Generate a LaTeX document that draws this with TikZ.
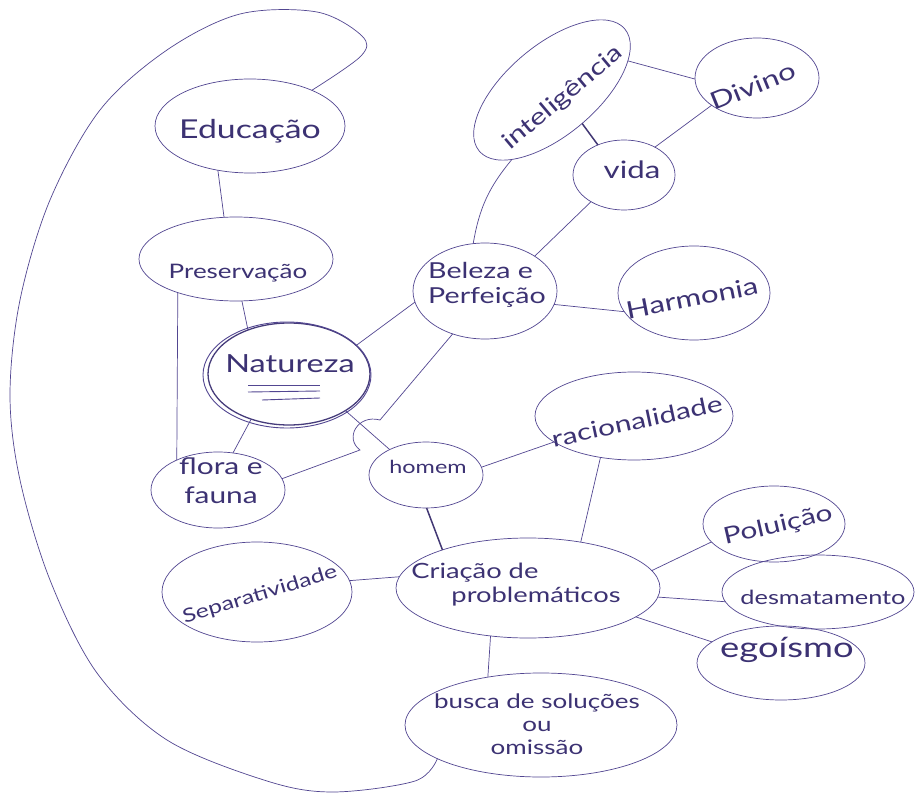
\documentclass[tikz,border=0pt]{standalone}
\usepackage{fontspec}
\setmainfont{Lato}[FakeStretch=1.3]
\usetikzlibrary{shapes.geometric}
\definecolor{ink}{RGB}{82,70,145}
\definecolor{inktext}{RGB}{60,50,115}
\begin{document}
\begin{tikzpicture}[x=1pt,y=-1pt,
  bub/.style={ellipse,draw=ink,line width=0.7pt,inner sep=0pt,outer sep=0pt},
  lbl/.style 2 args={text=inktext,inner sep=0pt,align=center,font=\fontsize{#1}{#2}\selectfont},
  link/.style={draw=ink,line width=0.7pt},
  strong/.style={draw=ink!80!black,line width=1.5pt}]
\useasboundingbox (0,0) rectangle (916,794);
\fill[white] (0,0) rectangle (916,794);

% bubbles
\node[bub,minimum width=190,minimum height=94] (edu) at (250,126) {};
\node[bub,minimum width=194,minimum height=84] (pres) at (236,259) {};
\node[bub,minimum width=162,minimum height=102,line width=1.3pt,draw=ink!85!black] (nat) at (289,374) {};
\node[bub,minimum width=144,minimum height=96] (bel) at (485,291) {};
\node[bub,minimum width=190,minimum height=90,rotate=40] (intel) at (552,90) {};
\node[bub,minimum width=124,minimum height=80] (div) at (757,78) {};
\node[bub,minimum width=102,minimum height=70] (vida) at (624,175) {};
\node[bub,minimum width=152,minimum height=94] (harm) at (694,293) {};
\node[bub,minimum width=198,minimum height=88] (rac) at (634,416) {};
\node[bub,minimum width=114,minimum height=66] (hom) at (426,475) {};
\node[bub,minimum width=134,minimum height=76] (flora) at (218,490) {};
\node[bub,minimum width=190,minimum height=100] (sep) at (257,592) {};
\node[bub,minimum width=264,minimum height=100] (cria) at (528,588) {};
\node[bub,minimum width=142,minimum height=76] (pol) at (774,524) {};
\node[bub,minimum width=192,minimum height=74] (desm) at (818,592) {};
\node[bub,minimum width=168,minimum height=74] (ego) at (781,663) {};
\node[bub,minimum width=272,minimum height=104] (busca) at (541,725) {};

% second outline and underlines of the central bubble
\draw[ink,line width=0.9pt] ([shift={(-2,1)}]nat.center) ellipse [x radius=84, y radius=53];
\draw[ink,line width=0.9pt] ([shift={(-41,11)}]nat.center) -- ++(72,0);
\draw[ink,line width=0.9pt] ([shift={(-41,18)}]nat.center) -- ++(72,-1);
\draw[ink,line width=0.9pt] ([shift={(-27,26)}]nat.center) -- ++(58,-2);

% labels
\node[lbl={26}{28}] (edu-t) at (250,131) {Educação};
\node[lbl={20}{22}] (pres-t) at (238,273) {Preservação};
\node[lbl={25}{27}] (nat-t) at (290,364) {Natureza};
\node[lbl={22}{25},align=left] (bel-t) at (487,285) {Beleza e\\Perfeição};
\node[lbl={23}{25},rotate=40] (intel-t) at (563,98) {inteligência};
\node[lbl={24}{26},rotate=22] (div-t) at (753,86) {Divino};
\node[lbl={24}{26}] (vida-t) at (632,170) {vida};
\node[lbl={24}{26},rotate=11] (harm-t) at (692,298) {Harmonia};
\node[lbl={23}{25},rotate=12] (rac-t) at (637,421) {racionalidade};
\node[lbl={18}{20}] (hom-t) at (428,467) {homem};
\node[lbl={23}{29}] (flora-t) at (221,481) {flora e\\fauna};
\node[lbl={19}{21},rotate=17] (sep-t) at (260,595) {Separatividade};
\node[lbl={21}{24},align=left] (cria-t) at (516,585) {Criação de\\\hspace*{40pt}problemáticos};
\node[lbl={23}{25},rotate=13] (pol-t) at (778,526) {Poluição};
\node[lbl={19.5}{22}] (desm-t) at (823,597) {desmatamento};
\node[lbl={28}{30}] (ego-t) at (787,650) {egoísmo};
\node[lbl={20}{23}] (busca-t) at (537,724) {busca de soluções\\ou\\omissão};

% junction where the lines from flora e fauna and Beleza meet
\coordinate (j1) at (360,450);
\coordinate (j2) at (380,420);

% connectors
\draw[link] (edu.234) -- (pres.106);
\draw[link] (pres.210) -- (flora.144);
\draw[link] (pres.278) -- (nat.133);
\draw[link] (nat.23) -- (bel.189);
\draw[link] (nat.230) -- (flora.68);
\draw[link] (nat.327) -- (hom.145);
\draw[link] (flora.10) -- (j1) .. controls (344,438) and (358,414) .. (j2) -- (bel.233);
\draw[link] (bel.104) to[bend left=15] (intel.200);
\draw[link] (bel.35) -- (vida.219);
\draw[link] (bel.349) -- (harm.195);
\draw[link] (intel.341) -- (div.181);
\draw[strong] (intel.272) -- (vida.131);
\draw[link] (div.211) -- (vida.42);
\draw[link] (hom.8) -- (rac.198);
\draw[link] (rac.231) -- (cria.41);
\draw[strong] (hom.271) -- (cria.156);
\draw[link] (sep.7) -- (cria.175);
\draw[link] (cria.8) -- (pol.196);
\draw[link] (cria.356) -- (desm.186);
\draw[link] (cria.345) -- (ego.163);
\draw[link] (cria.232) -- (busca.138);

% long loop from busca back up to Educação
\draw[link] plot[smooth,tension=0.55] coordinates {
  (busca.198) (415,781) (333,792) (267,781) (167,740) (97,673) (50,580)
  (20,480) (10,395) (20,300) (50,200) (100,110) (167,50) (240,14)
  (317,12) (362,36) (361,56) (edu.30)};
\end{tikzpicture}
\end{document}
